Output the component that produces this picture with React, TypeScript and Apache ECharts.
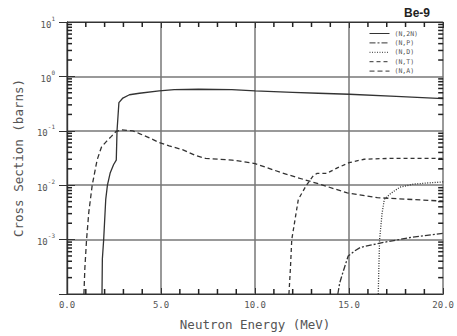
import React, { useEffect, useRef } from "react";
import * as echarts from "echarts";

const names = ["(N,2N)", "(N,P)", "(N,D)", "(N,T)", "(N,A)"];

const n2nE = [1.86, 1.88, 1.95, 2.06, 2.15, 2.3, 2.48, 2.62, 2.66, 2.76, 2.97, 3.32, 3.85, 4.9, 5.7, 7.0, 8.76, 10.0, 12.0, 13.35, 15.0, 17.5, 20.0];
const n2nS = [1e-4, 4.4e-4, 1e-3, 5.5e-3, 1e-2, 0.017, 0.024, 0.029, 0.1, 0.33, 0.4, 0.46, 0.49, 0.54, 0.57, 0.58, 0.57, 0.54, 0.51, 0.49, 0.47, 0.43, 0.39];

const npE = [14.4, 14.5, 14.67, 14.95, 15.3, 15.6, 16.7, 18.3, 20.0];
const npS = [1e-4, 1.6e-4, 2.5e-4, 5e-4, 6.2e-4, 7.2e-4, 8.7e-4, 1.1e-3, 1.3e-3];

const ndE = [16.55, 16.58, 16.62, 16.75, 16.87, 17.2, 17.7, 18.45, 19.2, 20.0];
const ndS = [1e-4, 3e-4, 1e-3, 3e-3, 5.5e-3, 7e-3, 9.2e-3, 1.05e-2, 1.1e-2, 1.15e-2];

const ntE = [11.8, 11.88, 11.95, 12.3, 12.73, 13.1, 13.3, 13.8, 14.4, 15.0, 15.8, 17.0, 20.0];
const ntS = [1e-4, 3e-4, 1e-3, 5.5e-3, 1e-2, 0.015, 0.0165, 0.0165, 0.021, 0.026, 0.03, 0.031, 0.031];

const naE = [0.9, 0.95, 1.04, 1.16, 1.34, 1.6, 1.83, 2.1, 2.36, 2.62, 2.89, 3.5, 3.85, 4.38, 4.9, 5.43, 6.14, 6.84, 7.37, 8.78, 10.0, 11.4, 12.5, 13.5, 14.9, 16.5, 20.0];
const naS = [1e-4, 3e-4, 1e-3, 3.2e-3, 1e-2, 0.029, 0.05, 0.064, 0.079, 0.098, 0.104, 0.1, 0.089, 0.074, 0.061, 0.053, 0.045, 0.035, 0.031, 0.029, 0.025, 0.017, 0.013, 0.0103, 0.0072, 0.0059, 0.0051];

const xMin = 0;
const xMax = 20;
const yMin = 1e-4;
const yMax = 10;
const xTickLabels = ["0.0", "5.0", "10.0", "15.0", "20.0"];

const FONT = "DejaVu Sans Mono";
const INK = "#333";
const TICK = "#222";
const TXT = "#555";

function pairs(e: number[], s: number[]) {
  return e.map((x, i) => [x, s[i]]);
}

const yMinorVals: number[] = [];
for (let d = -4; d < 1; d++) {
  for (let k = 2; k <= 9; k++) yMinorVals.push(k * Math.pow(10, d));
}
const xMinorVals: number[] = [];
for (let v = xMin + 1; v < xMax; v++) if (v % 5 !== 0) xMinorVals.push(v);

type Side = "left" | "right" | "bottom" | "top";

function tickSeries(side: Side) {
  const vertical = side === "left" || side === "right";
  const vals = vertical ? yMinorVals : xMinorVals;
  return {
    type: "custom",
    name: "ticks-" + side,
    xAxisIndex: 0,
    yAxisIndex: 0,
    z: 20,
    data: vals.map((v) => (vertical ? [side === "left" ? xMin : xMax, v] : [v, side === "bottom" ? yMin : yMax])),
    renderItem: (_p: any, api: any) => {
      const p = api.coord([api.value(0), api.value(1)]);
      const L = 5;
      const T = 1.5;
      let shape;
      if (side === "left") shape = { x: p[0], y: p[1] - T / 2, width: L, height: T };
      else if (side === "right") shape = { x: p[0] - L, y: p[1] - T / 2, width: L, height: T };
      else if (side === "bottom") shape = { x: p[0] - T / 2, y: p[1] - L, width: T, height: L };
      else shape = { x: p[0] - T / 2, y: p[1], width: T, height: L };
      return { type: "rect", shape, style: { fill: TICK } };
    },
  };
}

export default function App() {
  const ref = useRef<HTMLDivElement>(null);
  useEffect(() => {
    if (!ref.current) return;
    const chart = echarts.init(ref.current, undefined, { renderer: "svg" });
    const lineSeries = (name: string, data: number[][], type: any) => ({
      name,
      type: "line",
      data,
      symbol: "none",
      xAxisIndex: 0,
      yAxisIndex: 0,
      lineStyle: { color: INK, width: 1.3, type },
      itemStyle: { color: INK },
    });
    chart.setOption({
      animation: false,
      backgroundColor: "#fff",
      title: {
        text: "Be-9",
        left: 399,
        top: 2,
        textStyle: { fontFamily: "Liberation Sans", fontWeight: "bold", fontSize: 12, color: "#222" },
      },
      legend: {
        data: names,
        orient: "vertical",
        left: 364,
        top: 25,
        itemWidth: 20,
        itemHeight: 8,
        itemGap: 2.4,
        itemStyle: { opacity: 0 },
        lineStyle: { width: 1 },
        textStyle: { fontFamily: FONT, fontSize: 6.5, color: TXT },
      },
      grid: { left: 67, right: 11, top: 22, bottom: 41 },
      xAxis: [
        {
          type: "value",
          min: xMin,
          max: xMax,
          interval: 5,
          name: "Neutron Energy (MeV)",
          nameLocation: "middle",
          nameGap: 24,
          nameTextStyle: { fontFamily: FONT, fontSize: 12.5, color: TXT },
          axisLine: { lineStyle: { color: INK, width: 1.2 } },
          axisTick: { inside: true, length: 6, lineStyle: { color: INK } },
          axisLabel: {
            fontFamily: FONT,
            fontSize: 9,
            color: TXT,
            margin: 6,
            formatter: (v: number) => xTickLabels[Math.round(v / 5)] ?? "",
          },
          splitLine: { show: true, lineStyle: { color: "#777", width: 1.5 } },
        },
        {
          type: "value",
          position: "top",
          min: xMin,
          max: xMax,
          interval: 5,
          axisLine: { lineStyle: { color: INK, width: 1.2 } },
          axisTick: { inside: true, length: 6, lineStyle: { color: INK } },
          axisLabel: { show: false },
          splitLine: { show: false },
        },
      ],
      yAxis: [
        {
          type: "log",
          logBase: 10,
          min: yMin,
          max: yMax,
          name: "Cross Section (barns)",
          nameLocation: "middle",
          nameGap: 42,
          nameTextStyle: { fontFamily: FONT, fontSize: 12.5, color: TXT },
          axisLine: { lineStyle: { color: INK, width: 1.2 } },
          axisTick: { inside: true, length: 8, lineStyle: { color: INK } },
          axisLabel: {
            margin: 12,
            formatter: (v: number) => {
              const e = Math.round(Math.log10(v));
              if (e <= -4) return "";
              return `{b|10}{s|${e}}`;
            },
            rich: {
              b: { fontFamily: FONT, fontSize: 9, color: TXT, lineHeight: 14, verticalAlign: "bottom" },
              s: { fontFamily: FONT, fontSize: 6, color: TXT, lineHeight: 14, verticalAlign: "top" },
            },
          },
          splitLine: { show: true, lineStyle: { color: "#777", width: 1.5 } },
        },
        {
          type: "log",
          logBase: 10,
          min: yMin,
          max: yMax,
          position: "right",
          axisLine: { show: true, lineStyle: { color: INK, width: 1.2 } },
          axisTick: { inside: true, length: 8, lineStyle: { color: INK } },
          axisLabel: { show: false },
          splitLine: { show: false },
        },
      ],
      series: [
        lineSeries(names[0], pairs(n2nE, n2nS), "solid"),
        lineSeries(names[1], pairs(npE, npS), [6, 2, 2, 2]),
        lineSeries(names[2], pairs(ndE, ndS), [1, 1.5]),
        lineSeries(names[3], pairs(ntE, ntS), [4, 3]),
        lineSeries(names[4], pairs(naE, naS), [5, 3]),
        tickSeries("left"),
        tickSeries("right"),
        tickSeries("bottom"),
        tickSeries("top"),
      ],
    });
    return () => chart.dispose();
  }, []);
  return (
    <div
      ref={ref}
      style={{ position: "absolute", left: 0, top: 0, width: 457, height: 336, background: "#fff" }}
    />
  );
}
